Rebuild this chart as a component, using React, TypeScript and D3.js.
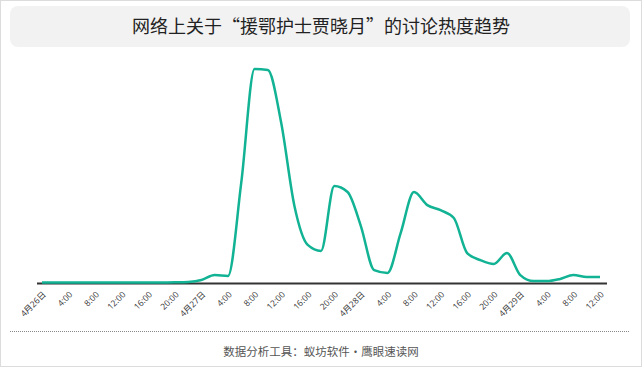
import { useRef, useEffect } from "react";
import * as d3 from "d3";

// discussion heat, one reading every 2 hours from 4/26 0:00 to 4/29 12:00 (peak = 100)
const heat = [
  0.2, 0.2, 0.2, 0.2, 0.2, 0.2, 0.2, 0.2, 0.2, 0.2, 0.3, 0.5,
  1.4, 3.7, 3.3, 47, 100, 99.5, 75, 36, 17.8, 15,
  45.3, 42.5, 26.6, 6, 4.7, 23.4, 42.5, 36.4, 34, 30.4,
  14, 10.7, 8.9, 14, 3.7, 0.9, 0.9, 1.9, 3.7, 2.8, 2.8,
];
const stepHours = 2;

// tick labels, one every 4 hours
const tickLabels = [
  "4月26日", "4:00", "8:00", "12:00", "16:00", "20:00",
  "4月27日", "4:00", "8:00", "12:00", "16:00", "20:00",
  "4月28日", "4:00", "8:00", "12:00", "16:00", "20:00",
  "4月29日", "4:00", "8:00", "12:00",
];

const title = "网络上关于“援鄂护士贾晓月”的讨论热度趋势";
const source = "数据分析工具：蚁坊软件·鹰眼速读网";

const App = () => {
  const svgRef = useRef(null);
  const width = 642;
  const height = 367;

  useEffect(() => {
    const svg = d3.select(svgRef.current);
    svg.selectAll("*").remove();

    const font = "'Noto Sans CJK SC', 'Noto Sans', sans-serif";

    // frame
    svg.append("rect")
      .attr("x", 0.5).attr("y", 0.5)
      .attr("width", width - 1).attr("height", height - 1)
      .attr("fill", "#fff")
      .attr("stroke", "#dcdcdc");

    // title box
    svg.append("rect")
      .attr("x", 10).attr("y", 6)
      .attr("width", 620).attr("height", 41)
      .attr("rx", 8)
      .attr("fill", "#f2f2f2");

    svg.append("text")
      .attr("x", 321).attr("y", 33)
      .attr("text-anchor", "middle")
      .attr("font-family", font)
      .attr("font-size", 18)
      .attr("fill", "#222")
      .text(title);

    const data = heat.map((v, i) => ({ h: i * stepHours, v }));

    const x = d3.scaleLinear()
      .domain([0, 84])
      .range([42, 600]);

    const y = d3.scaleLinear()
      .domain([0, 100])
      .range([283, 69]);

    // axis
    const tickHours = tickLabels.map((_, i) => i * 4);
    const axis = svg.append("g")
      .attr("transform", "translate(0,283)")
      .call(
        d3.axisBottom(x)
          .tickValues(tickHours)
          .tickSize(0)
          .tickFormat((d, i) => tickLabels[i])
      );
    axis.select(".domain").remove();
    axis.selectAll(".tick text")
      .attr("font-family", "'Open Sans', 'Noto Sans CJK SC', sans-serif")
      .attr("font-size", 8.5)
      .attr("fill", "#333")
      .attr("text-anchor", "end")
      .attr("dy", 0)
      .attr("y", 0)
      .attr("transform", "translate(4,12) rotate(-45)");

    svg.append("line")
      .attr("x1", 37).attr("x2", 607)
      .attr("y1", 283.5).attr("y2", 283.5)
      .attr("stroke", "#333")
      .attr("stroke-width", 2);

    const line = d3.line()
      .x(d => x(d.h))
      .y(d => y(d.v))
      .curve(d3.curveMonotoneX);

    svg.append("path")
      .datum(data)
      .attr("d", line)
      .attr("fill", "none")
      .attr("stroke", "#12b394")
      .attr("stroke-width", 2.5)
      .attr("stroke-linejoin", "round");

    // footer
    svg.append("line")
      .attr("x1", 10).attr("x2", 630)
      .attr("y1", 331.5).attr("y2", 331.5)
      .attr("stroke", "#888")
      .attr("stroke-width", 1)
      .attr("stroke-dasharray", "1,1");

    svg.append("text")
      .attr("x", 321).attr("y", 356)
      .attr("text-anchor", "middle")
      .attr("font-family", font)
      .attr("font-size", 11.5)
      .attr("fill", "#555")
      .text(source);
  }, []);

  return (
    <svg
      ref={svgRef}
      width={width}
      height={height}
      style={{ position: "absolute", left: 0, top: 0 }}
    ></svg>
  );
};

export default App;
